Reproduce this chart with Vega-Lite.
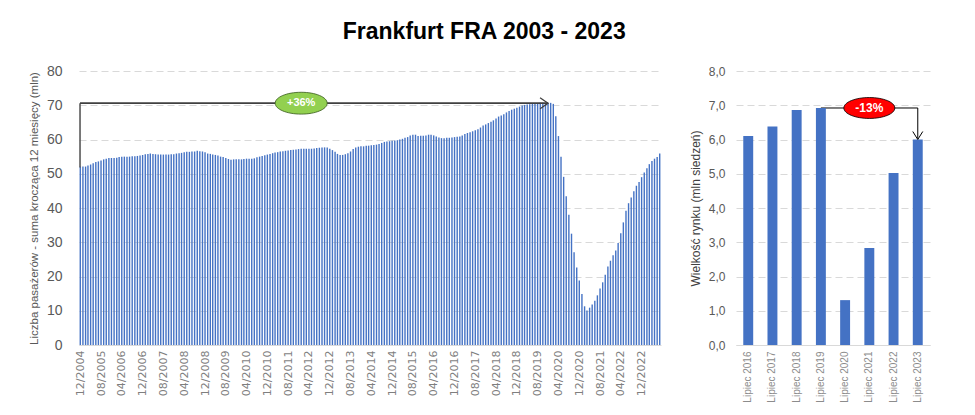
{
  "$schema": "https://vega.github.io/schema/vega-lite/v6.json",
  "background": "white",
  "padding": {"left": 28, "top": 21, "right": 5, "bottom": 0},
  "title": {"text": "Frankfurt FRA 2003 - 2023", "font": "Liberation Sans", "fontSize": 23, "fontWeight": "bold", "color": "#000000", "anchor": "middle", "offset": 20, "dx": 5},
  "spacing": 28,
  "config": {
    "view": {"stroke": null},
    "axis": {"labelFont": "Liberation Sans", "titleFont": "Liberation Sans", "titleFontWeight": "normal", "ticks": false, "domainColor": "#d9d9d9", "gridColor": "#d9d9d9", "gridDash": [7, 4], "gridWidth": 1}
  },
  "hconcat": [
    {
      "width": 582,
      "height": 274,
      "layer": [
        {
          "data": {"values": [
            {"d":"2004-12-01","v":52.1},
            {"d":"2005-01-01","v":52.1},{"d":"2005-02-01","v":52.1},{"d":"2005-03-01","v":52.4},{"d":"2005-04-01","v":52.7},{"d":"2005-05-01","v":53.1},{"d":"2005-06-01","v":53.4},{"d":"2005-07-01","v":53.6},{"d":"2005-08-01","v":53.9},{"d":"2005-09-01","v":54.2},{"d":"2005-10-01","v":54.4},{"d":"2005-11-01","v":54.6},{"d":"2005-12-01","v":54.6},
            {"d":"2006-01-01","v":54.6},{"d":"2006-02-01","v":54.7},{"d":"2006-03-01","v":54.9},{"d":"2006-04-01","v":55.0},{"d":"2006-05-01","v":55.0},{"d":"2006-06-01","v":55.0},{"d":"2006-07-01","v":55.0},{"d":"2006-08-01","v":55.1},{"d":"2006-09-01","v":55.1},{"d":"2006-10-01","v":55.2},{"d":"2006-11-01","v":55.3},{"d":"2006-12-01","v":55.5},
            {"d":"2007-01-01","v":55.7},{"d":"2007-02-01","v":55.8},{"d":"2007-03-01","v":55.9},{"d":"2007-04-01","v":55.8},{"d":"2007-05-01","v":55.7},{"d":"2007-06-01","v":55.6},{"d":"2007-07-01","v":55.6},{"d":"2007-08-01","v":55.6},{"d":"2007-09-01","v":55.6},{"d":"2007-10-01","v":55.6},{"d":"2007-11-01","v":55.7},{"d":"2007-12-01","v":55.7},
            {"d":"2008-01-01","v":55.9},{"d":"2008-02-01","v":56.0},{"d":"2008-03-01","v":56.1},{"d":"2008-04-01","v":56.3},{"d":"2008-05-01","v":56.4},{"d":"2008-06-01","v":56.4},{"d":"2008-07-01","v":56.5},{"d":"2008-08-01","v":56.5},{"d":"2008-09-01","v":56.7},{"d":"2008-10-01","v":56.6},{"d":"2008-11-01","v":56.5},{"d":"2008-12-01","v":56.3},
            {"d":"2009-01-01","v":55.9},{"d":"2009-02-01","v":55.8},{"d":"2009-03-01","v":55.6},{"d":"2009-04-01","v":55.5},{"d":"2009-05-01","v":55.3},{"d":"2009-06-01","v":55.0},{"d":"2009-07-01","v":54.9},{"d":"2009-08-01","v":54.6},{"d":"2009-09-01","v":54.3},{"d":"2009-10-01","v":54.1},{"d":"2009-11-01","v":54.2},{"d":"2009-12-01","v":54.2},
            {"d":"2010-01-01","v":54.2},{"d":"2010-02-01","v":54.2},{"d":"2010-03-01","v":54.3},{"d":"2010-04-01","v":54.4},{"d":"2010-05-01","v":54.4},{"d":"2010-06-01","v":54.4},{"d":"2010-07-01","v":54.5},{"d":"2010-08-01","v":54.8},{"d":"2010-09-01","v":55.0},{"d":"2010-10-01","v":55.2},{"d":"2010-11-01","v":55.4},{"d":"2010-12-01","v":55.6},
            {"d":"2011-01-01","v":55.8},{"d":"2011-02-01","v":56.0},{"d":"2011-03-01","v":56.2},{"d":"2011-04-01","v":56.3},{"d":"2011-05-01","v":56.5},{"d":"2011-06-01","v":56.6},{"d":"2011-07-01","v":56.7},{"d":"2011-08-01","v":56.8},{"d":"2011-09-01","v":56.9},{"d":"2011-10-01","v":57.0},{"d":"2011-11-01","v":57.1},{"d":"2011-12-01","v":57.2},
            {"d":"2012-01-01","v":57.3},{"d":"2012-02-01","v":57.3},{"d":"2012-03-01","v":57.3},{"d":"2012-04-01","v":57.3},{"d":"2012-05-01","v":57.3},{"d":"2012-06-01","v":57.4},{"d":"2012-07-01","v":57.5},{"d":"2012-08-01","v":57.6},{"d":"2012-09-01","v":57.7},{"d":"2012-10-01","v":57.7},{"d":"2012-11-01","v":57.7},{"d":"2012-12-01","v":57.3},
            {"d":"2013-01-01","v":56.9},{"d":"2013-02-01","v":56.4},{"d":"2013-03-01","v":55.8},{"d":"2013-04-01","v":55.5},{"d":"2013-05-01","v":55.5},{"d":"2013-06-01","v":55.7},{"d":"2013-07-01","v":56.0},{"d":"2013-08-01","v":56.5},{"d":"2013-09-01","v":57.2},{"d":"2013-10-01","v":57.7},{"d":"2013-11-01","v":57.9},{"d":"2013-12-01","v":58.0},
            {"d":"2014-01-01","v":58.0},{"d":"2014-02-01","v":58.2},{"d":"2014-03-01","v":58.2},{"d":"2014-04-01","v":58.3},{"d":"2014-05-01","v":58.4},{"d":"2014-06-01","v":58.5},{"d":"2014-07-01","v":58.7},{"d":"2014-08-01","v":59.0},{"d":"2014-09-01","v":59.3},{"d":"2014-10-01","v":59.4},{"d":"2014-11-01","v":59.5},{"d":"2014-12-01","v":59.6},
            {"d":"2015-01-01","v":59.7},{"d":"2015-02-01","v":59.8},{"d":"2015-03-01","v":60.0},{"d":"2015-04-01","v":60.2},{"d":"2015-05-01","v":60.5},{"d":"2015-06-01","v":60.7},{"d":"2015-07-01","v":61.2},{"d":"2015-08-01","v":61.4},{"d":"2015-09-01","v":61.4},{"d":"2015-10-01","v":61.0},{"d":"2015-11-01","v":61.1},{"d":"2015-12-01","v":61.1},
            {"d":"2016-01-01","v":61.2},{"d":"2016-02-01","v":61.4},{"d":"2016-03-01","v":61.4},{"d":"2016-04-01","v":61.2},{"d":"2016-05-01","v":60.9},{"d":"2016-06-01","v":60.6},{"d":"2016-07-01","v":60.4},{"d":"2016-08-01","v":60.4},{"d":"2016-09-01","v":60.5},{"d":"2016-10-01","v":60.5},{"d":"2016-11-01","v":60.6},{"d":"2016-12-01","v":60.7},
            {"d":"2017-01-01","v":60.8},{"d":"2017-02-01","v":60.9},{"d":"2017-03-01","v":61.2},{"d":"2017-04-01","v":61.6},{"d":"2017-05-01","v":61.9},{"d":"2017-06-01","v":62.1},{"d":"2017-07-01","v":62.4},{"d":"2017-08-01","v":62.7},{"d":"2017-09-01","v":63.0},{"d":"2017-10-01","v":63.5},{"d":"2017-11-01","v":64.1},{"d":"2017-12-01","v":64.4},
            {"d":"2018-01-01","v":64.8},{"d":"2018-02-01","v":65.2},{"d":"2018-03-01","v":65.6},{"d":"2018-04-01","v":66.1},{"d":"2018-05-01","v":66.7},{"d":"2018-06-01","v":67.0},{"d":"2018-07-01","v":67.4},{"d":"2018-08-01","v":67.9},{"d":"2018-09-01","v":68.3},{"d":"2018-10-01","v":68.7},{"d":"2018-11-01","v":69.0},{"d":"2018-12-01","v":69.3},
            {"d":"2019-01-01","v":69.6},{"d":"2019-02-01","v":69.9},{"d":"2019-03-01","v":70.1},{"d":"2019-04-01","v":70.2},{"d":"2019-05-01","v":70.3},{"d":"2019-06-01","v":70.4},{"d":"2019-07-01","v":70.6},{"d":"2019-08-01","v":70.6},{"d":"2019-09-01","v":70.7},{"d":"2019-10-01","v":70.7},{"d":"2019-11-01","v":70.7},{"d":"2019-12-01","v":70.7},
            {"d":"2020-01-01","v":70.7},{"d":"2020-02-01","v":70.4},{"d":"2020-03-01","v":66.8},{"d":"2020-04-01","v":61.0},{"d":"2020-05-01","v":55.0},{"d":"2020-06-01","v":49.1},{"d":"2020-07-01","v":43.4},{"d":"2020-08-01","v":38.0},{"d":"2020-09-01","v":32.5},{"d":"2020-10-01","v":27.1},{"d":"2020-11-01","v":22.6},{"d":"2020-12-01","v":18.8},
            {"d":"2021-01-01","v":14.9},{"d":"2021-02-01","v":11.3},{"d":"2021-03-01","v":10.1},{"d":"2021-04-01","v":10.9},{"d":"2021-05-01","v":11.8},{"d":"2021-06-01","v":12.9},{"d":"2021-07-01","v":14.5},{"d":"2021-08-01","v":16.5},{"d":"2021-09-01","v":18.3},{"d":"2021-10-01","v":20.5},{"d":"2021-11-01","v":22.9},{"d":"2021-12-01","v":24.6},
            {"d":"2022-01-01","v":26.2},{"d":"2022-02-01","v":27.6},{"d":"2022-03-01","v":29.8},{"d":"2022-04-01","v":32.6},{"d":"2022-05-01","v":35.8},{"d":"2022-06-01","v":39.2},{"d":"2022-07-01","v":41.4},{"d":"2022-08-01","v":43.1},{"d":"2022-09-01","v":44.9},{"d":"2022-10-01","v":46.5},{"d":"2022-11-01","v":47.6},{"d":"2022-12-01","v":49.0},
            {"d":"2023-01-01","v":50.4},{"d":"2023-02-01","v":51.6},{"d":"2023-03-01","v":52.8},{"d":"2023-04-01","v":53.7},{"d":"2023-05-01","v":54.4},{"d":"2023-06-01","v":54.9},{"d":"2023-07-01","v":55.9}
          ]},
          "mark": {"type": "bar", "width": 1.4, "color": "#4472C4"},
          "encoding": {
            "x": {"field": "d", "type": "temporal",
              "scale": {"type": "utc", "nice": false, "padding": 0, "domain": [{"year": 2004, "month": 11, "date": 16, "utc": true}, {"year": 2023, "month": 7, "date": 16, "utc": true}]},
              "axis": {"title": null, "format": "%m/%Y", "labelAngle": 270, "labelFont": "DejaVu Sans", "labelFontSize": 11, "labelColor": "#7f7f7f", "labelPadding": 5, "labelFlush": false, "labelOverlap": false, "labelBound": false, "grid": false, "tickCount": 200,
                "values": [
                  {"year":2004,"month":12,"date":1,"utc":true},{"year":2005,"month":8,"date":1,"utc":true},{"year":2006,"month":4,"date":1,"utc":true},{"year":2006,"month":12,"date":1,"utc":true},
                  {"year":2007,"month":8,"date":1,"utc":true},{"year":2008,"month":4,"date":1,"utc":true},{"year":2008,"month":12,"date":1,"utc":true},{"year":2009,"month":8,"date":1,"utc":true},
                  {"year":2010,"month":4,"date":1,"utc":true},{"year":2010,"month":12,"date":1,"utc":true},{"year":2011,"month":8,"date":1,"utc":true},{"year":2012,"month":4,"date":1,"utc":true},
                  {"year":2012,"month":12,"date":1,"utc":true},{"year":2013,"month":8,"date":1,"utc":true},{"year":2014,"month":4,"date":1,"utc":true},{"year":2014,"month":12,"date":1,"utc":true},
                  {"year":2015,"month":8,"date":1,"utc":true},{"year":2016,"month":4,"date":1,"utc":true},{"year":2016,"month":12,"date":1,"utc":true},{"year":2017,"month":8,"date":1,"utc":true},
                  {"year":2018,"month":4,"date":1,"utc":true},{"year":2018,"month":12,"date":1,"utc":true},{"year":2019,"month":8,"date":1,"utc":true},{"year":2020,"month":4,"date":1,"utc":true},
                  {"year":2020,"month":12,"date":1,"utc":true},{"year":2021,"month":8,"date":1,"utc":true},{"year":2022,"month":4,"date":1,"utc":true},{"year":2022,"month":12,"date":1,"utc":true}
                ]}},
            "y": {"field": "v", "type": "quantitative",
              "scale": {"domain": [0, 80], "nice": false},
              "axis": {"title": "Liczba pasażerów - suma krocząca 12 miesięcy (mln)", "values": [0,10,20,30,40,50,60,70,80], "tickCount": 100, "labelOverlap": false, "domain": false, "grid": true, "labelFontSize": 14, "labelColor": "#595959", "labelPadding": 17, "titleFontSize": 11.5, "titleColor": "#595959", "titlePadding": 7}}
          }
        },
        {
          "data": {"values": [{"d": "2004-11-28", "y1": 51.8, "y2": 70.6}]},
          "mark": {"type": "rule", "color": "#595959", "strokeWidth": 1.6},
          "encoding": {"x": {"field": "d", "type": "temporal"}, "y": {"field": "y1", "type": "quantitative"}, "y2": {"field": "y2"}}
        },
        {
          "data": {"values": [{"d": "2004-11-28", "d2": "2019-12-01", "y": 70.6}]},
          "mark": {"type": "rule", "color": "#404040", "strokeWidth": 1.8},
          "encoding": {"x": {"field": "d", "type": "temporal"}, "x2": {"field": "d2"}, "y": {"field": "y", "type": "quantitative"}}
        },
        {
          "data": {"values": [{"d": "2019-12-01", "y": 70.6}]},
          "mark": {"type": "point", "shape": "M-1.45,-1L0,0L-1.45,1", "filled": false, "color": "#404040", "strokeWidth": 1.3, "size": 121, "opacity": 1},
          "encoding": {"x": {"field": "d", "type": "temporal"}, "y": {"field": "y", "type": "quantitative"}}
        },
        {
          "data": {"values": [{"d": "2012-01-01", "y": 70.6, "label": "+36%"}]},
          "mark": {"type": "point", "shape": "M-1,0A1,0.42,0,1,0,1,0A1,0.42,0,1,0,-1,0Z", "filled": true, "fill": "#92D050", "stroke": "#3a5a1f", "strokeWidth": 0.8, "size": 2704, "opacity": 1},
          "encoding": {"x": {"field": "d", "type": "temporal"}, "y": {"field": "y", "type": "quantitative"}}
        },
        {
          "data": {"values": [{"d": "2012-01-01", "y": 70.6, "label": "+36%"}]},
          "mark": {"type": "text", "font": "Liberation Sans", "fontWeight": "bold", "fontSize": 11, "color": "#ffffff", "align": "center", "baseline": "middle"},
          "encoding": {"x": {"field": "d", "type": "temporal"}, "y": {"field": "y", "type": "quantitative"}, "text": {"field": "label"}}
        }
      ]
    },
    {
      "width": 194,
      "height": 274,
      "layer": [
        {
          "data": {"values": [{"r": "Lipiec 2019", "r2": "Lipiec 2023", "y": 6.92}]},
          "mark": {"type": "rule", "color": "#000000", "strokeWidth": 1},
          "encoding": {"x": {"field": "r", "type": "nominal"}, "x2": {"field": "r2"}, "y": {"field": "y", "type": "quantitative"}}
        },
        {
          "data": {"values": [{"r": "Lipiec 2023", "y1": 6.92, "y2": 6.02}]},
          "mark": {"type": "rule", "color": "#000000", "strokeWidth": 1},
          "encoding": {"x": {"field": "r", "type": "nominal"}, "y": {"field": "y1", "type": "quantitative"}, "y2": {"field": "y2"}}
        },
        {
          "data": {"values": [
            {"r": "Lipiec 2016", "v": 6.1},
            {"r": "Lipiec 2017", "v": 6.38},
            {"r": "Lipiec 2018", "v": 6.86},
            {"r": "Lipiec 2019", "v": 6.92},
            {"r": "Lipiec 2020", "v": 1.31},
            {"r": "Lipiec 2021", "v": 2.83},
            {"r": "Lipiec 2022", "v": 5.02},
            {"r": "Lipiec 2023", "v": 6.0}
          ]},
          "mark": {"type": "bar", "color": "#4472C4"},
          "encoding": {
            "x": {"field": "r", "type": "nominal",
              "scale": {"paddingInner": 0.59, "paddingOuter": 0.3},
              "axis": {"title": null, "labelAngle": 270, "labelFontSize": 10, "labelColor": "#8c8c8c", "labelPadding": 6}},
            "y": {"field": "v", "type": "quantitative",
              "scale": {"domain": [0, 8], "nice": false},
              "axis": {"title": "Wielkość rynku (mln siedzeń)", "values": [0,1,2,3,4,5,6,7,8], "tickCount": 100, "labelOverlap": false, "labelExpr": "replace(format(datum.value, '.1f'), '.', ',')", "domain": false, "grid": true, "labelFontSize": 12, "labelColor": "#595959", "labelPadding": 11, "titleFontSize": 12, "titleColor": "#404040", "titlePadding": 6}}
          }
        },
        {
          "data": {"values": [{"r": "Lipiec 2023", "y": 6.0}]},
          "mark": {"type": "point", "shape": "M-1,-1.6L0,0L1,-1.6", "filled": false, "color": "#000000", "strokeWidth": 1, "size": 100, "opacity": 1},
          "encoding": {"x": {"field": "r", "type": "nominal"}, "y": {"field": "y", "type": "quantitative"}}
        },
        {
          "data": {"values": [{"r": "Lipiec 2021", "y": 6.92}]},
          "mark": {"type": "point", "shape": "M-1,0A1,0.41,0,1,0,1,0A1,0.41,0,1,0,-1,0Z", "filled": true, "fill": "#FF0000", "stroke": "#000000", "strokeWidth": 0.8, "size": 2601, "opacity": 1},
          "encoding": {"x": {"field": "r", "type": "nominal"}, "y": {"field": "y", "type": "quantitative"}}
        },
        {
          "data": {"values": [{"r": "Lipiec 2021", "y": 6.92, "label": "-13%"}]},
          "mark": {"type": "text", "font": "Liberation Sans", "fontWeight": "bold", "fontSize": 12, "color": "#ffffff", "align": "center", "baseline": "middle"},
          "encoding": {"x": {"field": "r", "type": "nominal"}, "y": {"field": "y", "type": "quantitative"}, "text": {"field": "label"}}
        }
      ]
    }
  ]
}
